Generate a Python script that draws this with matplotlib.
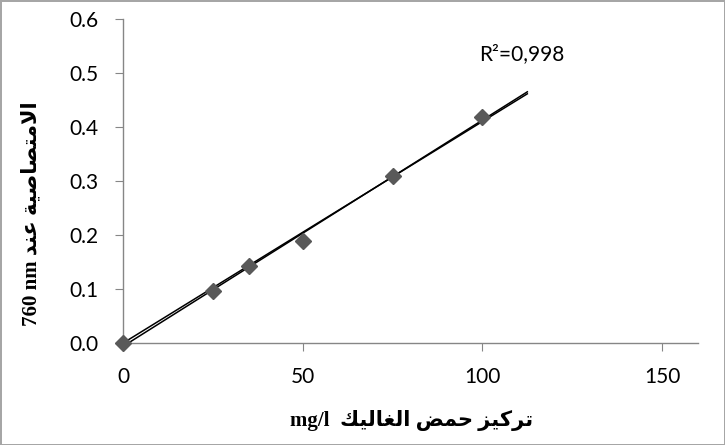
import matplotlib
matplotlib.use('Agg')
import matplotlib.pyplot as plt
import numpy as np

# calibration data (gallic acid)
conc = [0, 25, 35, 50, 75, 100]
absorb = [0.0, 0.097, 0.143, 0.19, 0.31, 0.418]
x_ticks = [0, 50, 100, 150]
y_ticks = [0.0, 0.1, 0.2, 0.3, 0.4, 0.5, 0.6]
r2_label = 'R²=0,998'
x_title_ar = 'تركيز حمض الغاليك'
y_title_ar = 'الامتصاصية عند'

# small arabic shaper (matplotlib has no shaping / bidi)
FORMS = {
    'ا': ('\uFE8D', '\uFE8E', None, None),
    'ة': ('\uFE93', '\uFE94', None, None),
    'ت': ('\uFE95', '\uFE96', '\uFE97', '\uFE98'),
    'ح': ('\uFEA1', '\uFEA2', '\uFEA3', '\uFEA4'),
    'د': ('\uFEA9', '\uFEAA', None, None),
    'ر': ('\uFEAD', '\uFEAE', None, None),
    'ز': ('\uFEAF', '\uFEB0', None, None),
    'ص': ('\uFEB9', '\uFEBA', '\uFEBB', '\uFEBC'),
    'ض': ('\uFEBD', '\uFEBE', '\uFEBF', '\uFEC0'),
    'ع': ('\uFEC9', '\uFECA', '\uFECB', '\uFECC'),
    'غ': ('\uFECD', '\uFECE', '\uFECF', '\uFED0'),
    'ك': ('\uFED9', '\uFEDA', '\uFEDB', '\uFEDC'),
    'ل': ('\uFEDD', '\uFEDE', '\uFEDF', '\uFEE0'),
    'م': ('\uFEE1', '\uFEE2', '\uFEE3', '\uFEE4'),
    'ن': ('\uFEE5', '\uFEE6', '\uFEE7', '\uFEE8'),
    'ي': ('\uFEF1', '\uFEF2', '\uFEF3', '\uFEF4'),
}

def shape(word):
    toks = []
    i = 0
    while i < len(word):
        if word[i] == 'ل' and i + 1 < len(word) and word[i+1] == 'ا':
            toks.append('LA')
            i += 2
        else:
            toks.append(word[i])
            i += 1
    def joins(t):
        return t != 'LA' and FORMS[t][2] is not None
    out = []
    for k, t in enumerate(toks):
        prev = k > 0 and joins(toks[k-1])
        nxt = k + 1 < len(toks) and joins(t)
        if t == 'LA':
            out.append('\uFEFC' if prev else '\uFEFB')
            continue
        iso, fin, ini, med = FORMS[t]
        if prev and nxt:
            out.append(med)
        elif prev:
            out.append(fin)
        elif nxt:
            out.append(ini)
        else:
            out.append(iso)
    return ''.join(out)[::-1]

def rtl(phrase):
    return ' '.join(shape(w) for w in phrase.split()[::-1])

fig = plt.figure(figsize=(7.25, 4.45), dpi=100, facecolor='white',
                 edgecolor='#a6a6a6', linewidth=2)
ax = fig.add_axes([0.1697, 0.229, 0.7931, 0.728])

# trendlines: least squares with intercept and through origin
x = np.array(conc)
y = np.array(absorb)
a, b = np.polyfit(x, y, 1)
k0 = (x * y).sum() / (x * x).sum()
xl = np.array([0, 112.5])
ax.plot(xl, a * xl + b, color='black', lw=1.1, zorder=2)
ax.plot(xl, k0 * xl, color='black', lw=1.1, zorder=2)

ax.plot(conc, absorb, linestyle='none', marker='D', ms=8.5,
        color='#595959', zorder=3, clip_on=False)

ax.set_xlim(0, 160)
ax.set_ylim(0, 0.6)
ax.set_xticks(x_ticks)
ax.set_yticks(y_ticks)
ax.set_yticklabels([f'{v:.1f}' for v in y_ticks])
for s in ['top', 'right']:
    ax.spines[s].set_visible(False)
for s in ['left', 'bottom']:
    ax.spines[s].set_color('#868686')
    ax.spines[s].set_linewidth(1.0)
ax.tick_params(axis='both', direction='out', length=6, color='#868686',
               labelsize=15)
ax.tick_params(axis='y', pad=12)
ax.tick_params(axis='x', pad=11)
for lab in ax.get_xticklabels() + ax.get_yticklabels():
    lab.set_fontfamily('Lato')

ax.text(99.0, 0.535, r2_label, fontsize=15, family='Lato', va='center', ha='left')

fig.text(0.567, 0.056, 'mg/l  ' + rtl(x_title_ar), ha='center', va='center',
         fontsize=15, fontweight='bold', family=['Liberation Serif', 'DejaVu Sans'])
fig.text(0.044, 0.52, '760 nm ' + rtl(y_title_ar), ha='center', va='center',
         rotation=90, fontsize=15, fontweight='bold',
         family=['Liberation Serif', 'DejaVu Sans'])

fig.savefig('out.png', dpi=100, facecolor=fig.get_facecolor(),
            edgecolor=fig.get_edgecolor())
